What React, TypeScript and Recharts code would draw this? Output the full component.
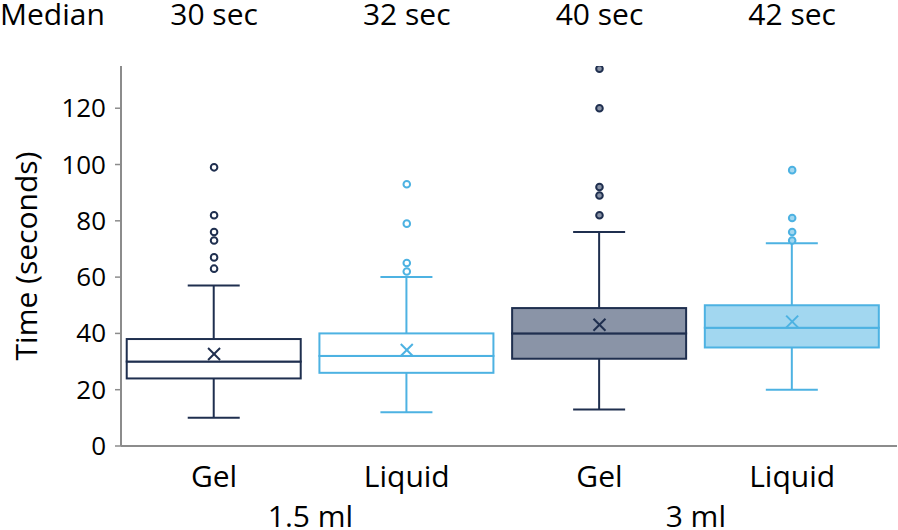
import React from 'react';
import { ComposedChart, Bar, Scatter, XAxis, YAxis } from 'recharts';

const categories = ['Gel', 'Liquid', 'Gel', 'Liquid'];
const groupLabels = ['1.5 ml', '3 ml'];
const groupTicks = [1.5, 3.5];
const minValues = [10, 12, 13, 20];
const q1Values = [24, 26, 31, 35];
const medianValues = [30, 32, 40, 42];
const q3Values = [38, 40, 49, 50];
const maxValues = [57, 60, 76, 72];
const meanValues = [32.7, 34.1, 43.1, 44.2];
const outlierValues = [
  [99, 82, 76, 73, 67, 63],
  [93, 79, 65, 62],
  [134, 120, 92, 89, 82],
  [98, 81, 76, 73],
];
const yTicks = [0, 20, 40, 60, 80, 100, 120];
const xTicks = [1, 2, 3, 4];

const NAVY = '#1f2f4f';
const BLUE = '#4db2e2';
const strokes = [NAVY, BLUE, NAVY, BLUE];
const fills = ['#ffffff', '#ffffff', '#8a94a7', '#a2d7f0'];
const AXIS = '#8c8c8c';
const FONT = "'Open Sans', sans-serif";
const X_DOMAIN: [number, number] = [0.517, 4.544];

const rows = categories.map((c, i) => ({
  x: i + 1,
  base: minValues[i],
  lowW: q1Values[i] - minValues[i],
  lowBox: medianValues[i] - q1Values[i],
  highBox: q3Values[i] - medianValues[i],
  highW: maxValues[i] - q3Values[i],
}));

const means = meanValues.map((m, i) => ({ x: i + 1, y: m }));
const outliers = outlierValues.flatMap((arr, i) => arr.map((v) => ({ x: i + 1, y: v })));

const idxOf = (p: any) => Math.round((p.payload?.x ?? 1) - 1);

const Empty = () => <g />;

const WhiskerLow = (p: any) => {
  const i = idxOf(p);
  const cx = p.x + p.width / 2;
  const yb = p.y + p.height;
  return (
    <g>
      <line x1={cx} x2={cx} y1={p.y} y2={yb} stroke={strokes[i]} strokeWidth={2} />
      <line x1={cx - 26} x2={cx + 26} y1={yb} y2={yb} stroke={strokes[i]} strokeWidth={2} />
    </g>
  );
};

const WhiskerHigh = (p: any) => {
  const i = idxOf(p);
  const cx = p.x + p.width / 2;
  const yb = p.y + p.height;
  return (
    <g>
      <line x1={cx} x2={cx} y1={p.y} y2={yb} stroke={strokes[i]} strokeWidth={2} />
      <line x1={cx - 26} x2={cx + 26} y1={p.y} y2={p.y} stroke={strokes[i]} strokeWidth={2} />
    </g>
  );
};

const BoxPart = (p: any) => {
  const i = idxOf(p);
  return (
    <rect x={p.x} y={p.y} width={p.width} height={p.height} fill={fills[i]} stroke={strokes[i]} strokeWidth={2} />
  );
};

const MeanMark = (p: any) => {
  const i = idxOf(p);
  const { cx, cy } = p;
  const s = 6;
  return (
    <g stroke={strokes[i]} strokeWidth={2}>
      <line x1={cx - s} y1={cy - s} x2={cx + s} y2={cy + s} />
      <line x1={cx - s} y1={cy + s} x2={cx + s} y2={cy - s} />
    </g>
  );
};

const OutlierMark = (p: any) => {
  const i = idxOf(p);
  return <circle cx={p.cx} cy={p.cy} r={3.3} fill={fills[i]} stroke={strokes[i]} strokeWidth={2} />;
};

const txt = (size: number) => ({ fontSize: `${size}px`, fontFamily: FONT, fill: '#000' });

const MainTick = (p: any) => (
  <text x={p.x} y={p.y + 41} textAnchor="middle" style={txt(30)}>
    {categories[Math.round(p.payload.value) - 1]}
  </text>
);

const GroupTick = (p: any) => {
  const k = groupTicks.indexOf(p.payload.value);
  return (
    <text x={p.x} y={p.y + 37} textAnchor="middle" style={txt(30)}>
      {groupLabels[k]}
    </text>
  );
};

const TopTick = (p: any) => (
  <text x={p.x} y={p.y - 41} textAnchor="middle" style={txt(30)}>
    {`${medianValues[Math.round(p.payload.value) - 1]} sec`}
  </text>
);

const YTick = (p: any) => (
  <text x={p.x} y={p.y + 9} textAnchor="end" style={txt(26)}>
    {yTicks[p.index] ?? p.payload.value}
  </text>
);

const MedianLabel = (p: any) => {
  const vb = p.viewBox || { x: 121, y: 0, height: 66 };
  return (
    <text x={vb.x - 121} y={vb.y + vb.height - 41} textAnchor="start" style={txt(30)}>
      Median
    </text>
  );
};

const YLabel = (p: any) => {
  const vb = p.viewBox || { x: 0, y: 66, width: 121, height: 380 };
  const cx = vb.x + 25;
  const cy = vb.y + vb.height / 2;
  return (
    <text
      x={cx}
      y={cy}
      transform={`rotate(-90, ${cx}, ${cy})`}
      textAnchor="middle"
      dominantBaseline="central"
      style={txt(30)}
    >
      Time (seconds)
    </text>
  );
};

export default function App() {
  return (
    <div style={{ position: 'absolute', left: 0, top: 0, width: 898, height: 530, background: '#fff' }}>
      <ComposedChart
        width={898}
        height={530}
        data={rows}
        margin={{ top: 0, right: 1, bottom: 0, left: 0 }}
        style={{ fontFamily: FONT }}
      >
        <XAxis
          xAxisId="a_main"
          type="number"
          dataKey="x"
          domain={X_DOMAIN}
          allowDataOverflow
          ticks={xTicks}
          interval={0}
          height={44}
          tickLine={false}
          tickSize={0}
          tickMargin={0}
          axisLine={{ stroke: AXIS, strokeWidth: 2 }}
          tick={<MainTick />}
        />
        <XAxis
          xAxisId="b_group"
          type="number"
          dataKey="x"
          domain={X_DOMAIN}
          allowDataOverflow
          ticks={groupTicks}
          interval={0}
          height={40}
          tickLine={false}
          tickSize={0}
          tickMargin={0}
          axisLine={false}
          tick={<GroupTick />}
        />
        <XAxis
          xAxisId="c_top"
          orientation="top"
          type="number"
          dataKey="x"
          domain={X_DOMAIN}
          allowDataOverflow
          ticks={xTicks}
          interval={0}
          height={66}
          tickLine={false}
          tickSize={0}
          tickMargin={0}
          axisLine={false}
          tick={<TopTick />}
          label={{ content: <MedianLabel /> } as any}
        />
        <YAxis
          type="number"
          domain={[0, 135]}
          allowDataOverflow
          ticks={yTicks}
          interval={0}
          width={121}
          tickSize={6}
          tickMargin={9}
          axisLine={{ stroke: AXIS, strokeWidth: 2 }}
          tickLine={{ stroke: AXIS, strokeWidth: 1.5 }}
          tick={<YTick />}
          label={{ content: <YLabel /> } as any}
        />
        <Bar xAxisId="a_main" dataKey="base" stackId="box" barSize={174} fill="none" shape={<Empty />} isAnimationActive={false} />
        <Bar xAxisId="a_main" dataKey="lowW" stackId="box" barSize={174} shape={<WhiskerLow />} isAnimationActive={false} />
        <Bar xAxisId="a_main" dataKey="lowBox" stackId="box" barSize={174} shape={<BoxPart />} isAnimationActive={false} />
        <Bar xAxisId="a_main" dataKey="highBox" stackId="box" barSize={174} shape={<BoxPart />} isAnimationActive={false} />
        <Bar xAxisId="a_main" dataKey="highW" stackId="box" barSize={174} shape={<WhiskerHigh />} isAnimationActive={false} />
        <Scatter xAxisId="a_main" data={means} dataKey="y" shape={<MeanMark />} isAnimationActive={false} />
        <Scatter xAxisId="a_main" data={outliers} dataKey="y" shape={<OutlierMark />} isAnimationActive={false} />
      </ComposedChart>
    </div>
  );
}
